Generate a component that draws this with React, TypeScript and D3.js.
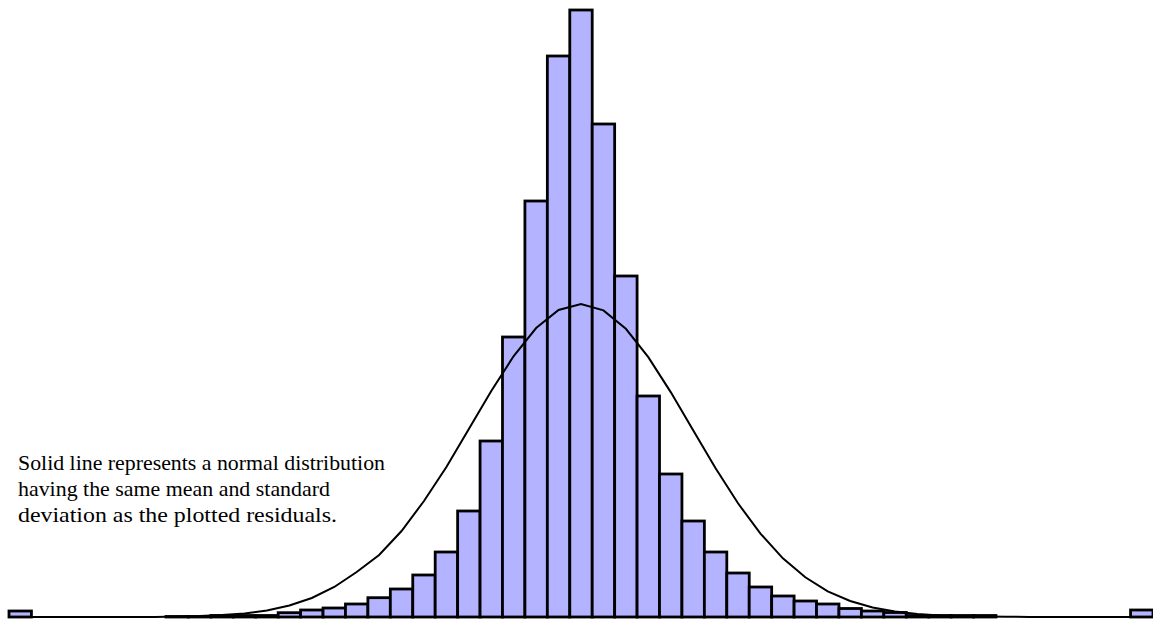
import React from "react";
import * as d3 from "d3";

// Histogram of residuals: 51 equal-width bins (end bins hold the outliers)
const binIndex: number[] = d3.range(51);
const counts: number[] = [
  6, 0, 0, 0, 0, 0, 0, 0.5, 0.5, 1.5,
  1.5, 1.5, 4.3, 7, 9, 13, 19.3, 28, 42, 65,
  106, 176, 280, 416, 561, 607, 493, 341, 221, 143,
  96, 65, 44, 30, 21, 16, 13, 8.5, 6, 4.5,
  1.5, 1.5, 1.5, 1.5, 0, 0, 0, 0, 0, 0,
  7,
];
// Normal curve (same mean / sd as residuals) sampled at bin centres
const normalCurve: number[] = [
  0, 0, 0, 0, 0, 0, 0, 0.5, 1, 2,
  3.5, 6.5, 11.5, 19, 30, 45, 62, 86, 116, 150,
  188, 226, 261, 289, 307, 313, 306.6, 288.2, 259.9, 224.9,
  186.7, 148.8, 113.7, 83.4, 58.7, 39.7, 25.7, 16, 9.5, 5.5,
  3, 1.6, 0.8, 0.4, 0.2, 0.1, 0, 0, 0, 0,
  0,
];
const noteLines: string[] = [
  "Solid line represents a normal distribution",
  "having the same mean and standard",
  "deviation as the plotted residuals.",
];
const noteWidths: number[] = [367, 312, 319];

const W = 1153;
const H = 620;

export default function App() {
  const x = d3.scaleLinear().domain([0, binIndex.length]).range([9, 1153]);
  const y = d3.scaleLinear().domain([0, 607]).range([617, 10]);
  const line = d3
    .line<number>()
    .x((_, i) => x(binIndex[i] + 0.5))
    .y((d) => y(d));

  return (
    <svg
      width={W}
      height={H}
      style={{ position: "absolute", left: 0, top: 0, background: "#fff" }}
    >
      <g>
        {binIndex.map((b, i) => (
          <rect
            key={b}
            x={x(b)}
            y={y(counts[i])}
            width={x(b + 1) - x(b)}
            height={y(0) - y(counts[i])}
            fill="#b3b3ff"
            stroke="#000"
            strokeWidth={2.8}
          />
        ))}
      </g>
      <path d={line(normalCurve) || ""} fill="none" stroke="#000" strokeWidth={2} />
      <g
        fontFamily="'Liberation Serif', 'Times New Roman', serif"
        fontSize={22}
        fill="#000"
      >
        {noteLines.map((t, i) => (
          <text
            key={i}
            x={18}
            y={470 + i * 26}
            textLength={noteWidths[i]}
            lengthAdjust="spacingAndGlyphs"
          >
            {t}
          </text>
        ))}
      </g>
    </svg>
  );
}
